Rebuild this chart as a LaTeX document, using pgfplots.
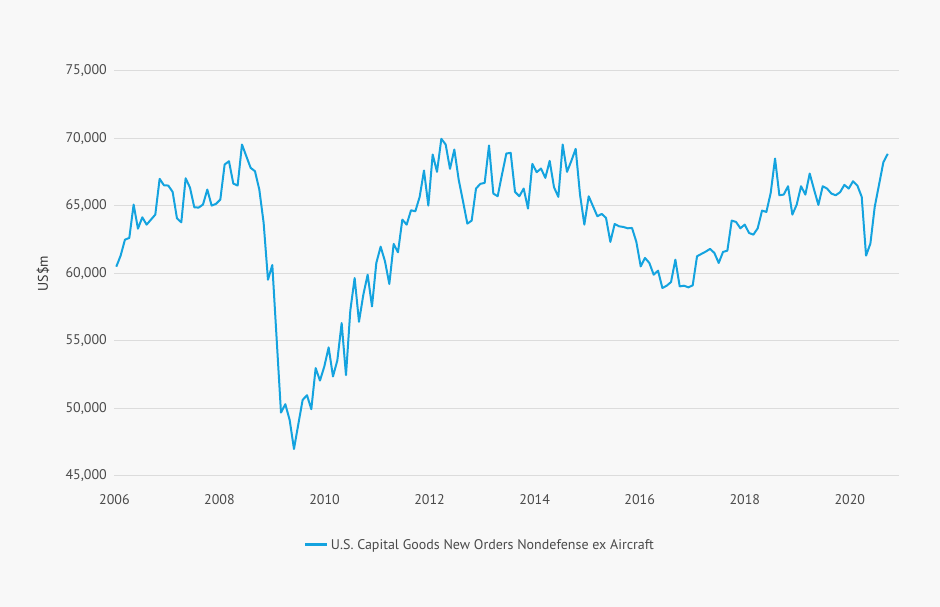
\documentclass[border=0pt]{standalone}
\usepackage{fontspec}
\setmainfont{PT Sans}
\usepackage{pgfplots}
\pgfplotsset{compat=1.18}
\usepackage{pgfplotstable}

\definecolor{bgc}{HTML}{F8F8F8}
\definecolor{lineblue}{HTML}{14A3DF}
\definecolor{gridc}{HTML}{DCDCDC}
\definecolor{txt}{HTML}{4A4A4A}

% monthly orders, US$m
\pgfplotstableread{
v
60504
61320
62507
62634
65104
63323
64161
63620
63991
64362
67010
66536
66513
66045
64087
63790
67056
66365
64904
64881
65104
66217
65030
65155
65475
68071
68318
66662
66513
69555
68689
67826
67578
66217
63746
59540
60631
55163
49697
50319
49155
47003
48836
50638
50984
49948
52990
52070
53115
54525
52373
53560
56329
52470
57262
59666
56424
58427
59911
57559
60779
61988
60900
59221
62187
61568
63991
63620
64683
64608
65676
67627
65030
68813
67528
69976
69555
67751
69184
66958
65349
63694
63917
66291
66640
66711
69481
65920
65722
67330
68887
68936
66044
65722
66291
64807
68121
67504
67775
67083
68343
66390
65676
69555
67528
68343
69234
65846
63620
65722
64980
64238
64416
64119
62339
63669
63496
63447
63348
63373
62339
60528
61152
60779
59911
60208
58924
59095
59367
61024
59045
59095
58974
59120
61276
61449
61620
61820
61523
60779
61597
61691
63917
63820
63348
63620
63002
62878
63348
64658
64559
65969
68516
65796
65846
66464
64362
65104
66464
65846
67404
66217
65080
66464
66291
65920
65796
66019
66563
66291
66835
66513
65676
61325
62215
64935
66588
68244
68862
}\orders

\begin{document}
\begin{tikzpicture}[x=1pt,y=1pt]
\fill[bgc] (0,0) rectangle (940,607);
\begin{axis}[
    at={(114.4pt,131pt)}, anchor=south west,
    width=784.3pt, height=405pt, scale only axis,
    xmin=2006, xmax=2020.93,
    ymin=45000, ymax=75000,
    axis line style={draw=none},
    tick style={draw=none},
    xtick={2006,2008,...,2020},
    ytick={45000,50000,...,75000},
    scaled x ticks=false,
    scaled y ticks=false,
    ymajorgrids,
    grid style={gridc, line width=1pt},
    /pgf/number format/assume math mode=true,
    tick label style={font=\fontsize{14}{16}\selectfont, text=txt},
    xticklabel style={/pgf/number format/.cd, fixed, 1000 sep={}, /tikz/.cd, anchor=center, yshift=-24pt},
    yticklabel style={/pgf/number format/.cd, fixed, 1000 sep={,}, /tikz/.cd, anchor=east, xshift=-4pt},
    ylabel={US\$m},
    ylabel style={at={(axis description cs:-0.091,0.5)}, anchor=center,
                  font=\fontsize{14}{16}\selectfont, text=black!80},
    legend style={at={(axis description cs:0.466,-0.17)}, anchor=center,
                  draw=none, fill=none, font=\fontsize{14}{16}\selectfont, text=txt},
    legend image code/.code={\draw[line width=3pt, lineblue] (0pt,0pt) -- (22pt,0pt);},
]
\addplot[lineblue, line width=2pt, line join=round]
    table[x expr=2006.036+\coordindex*0.0825, y=v] {\orders};
\addlegendentry{U.S. Capital Goods New Orders Nondefense ex Aircraft}
\end{axis}
\end{tikzpicture}
\end{document}
